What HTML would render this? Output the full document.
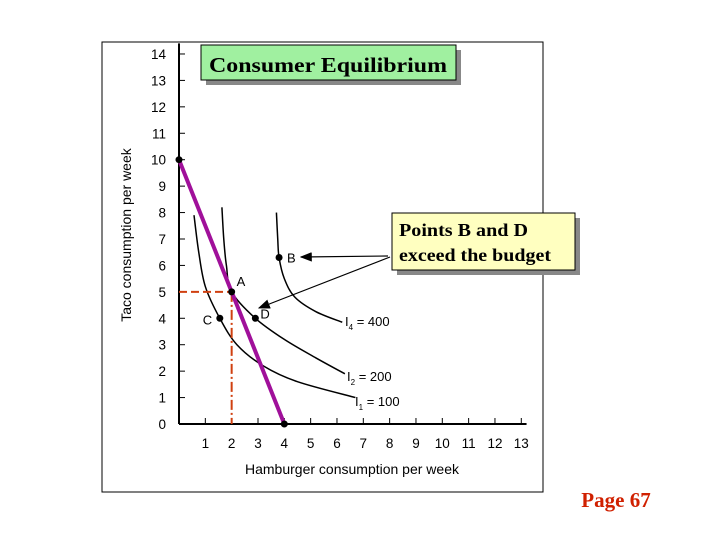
<!DOCTYPE html>
<html><head><meta charset="utf-8"><style>
body{margin:0;width:720px;height:540px;background:#fff;overflow:hidden;font-family:"Liberation Sans",sans-serif}
</style></head><body>
<svg width="720" height="540" id="c">
<rect x="102" y="42" width="441" height="450" fill="#fff" stroke="#000" stroke-width="1"/>
<g id="g"></g>
<text x="131" y="235" transform="rotate(-90 131 235)" text-anchor="middle" font-size="14" font-family="Liberation Sans">Taco consumption per week</text>
<text x="352" y="474" text-anchor="middle" font-size="14" font-family="Liberation Sans">Hamburger consumption per week</text>
<rect x="206" y="50" width="255" height="35" fill="#888"/>
<rect x="201" y="45" width="255" height="35" fill="#a0f0a0" stroke="#000"/>
<text x="209" y="72" font-size="21" font-weight="bold" textLength="238" lengthAdjust="spacingAndGlyphs" font-family="Liberation Serif">Consumer Equilibrium</text>
<rect x="397" y="218" width="183" height="57" fill="#888"/>
<rect x="392" y="213" width="183" height="57" fill="#ffffc0" stroke="#000"/>
<text x="399" y="236" font-size="18" font-weight="bold" textLength="129" lengthAdjust="spacingAndGlyphs" font-family="Liberation Serif">Points B and D</text>
<text x="399" y="261" font-size="18" font-weight="bold" textLength="152" lengthAdjust="spacingAndGlyphs" font-family="Liberation Serif">exceed the budget</text>
<text x="616" y="507" text-anchor="middle" font-size="21" font-weight="bold" fill="#d02000" font-family="Liberation Serif">Page 67</text>
</svg>
<script>
const xTicks=[1,2,3,4,5,6,7,8,9,10,11,12,13];
const yTicks=[0,1,2,3,4,5,6,7,8,9,10,11,12,13,14];
const curveI1=[[0.57,7.9],[0.75,6.5],[1.0,5.2],[1.55,4],[2.2,3],[3.2,2.2],[4.5,1.6],[6.7,1.0]];
const curveI2=[[1.63,8.2],[1.7,7],[1.8,6],[2,5],[2.9,4],[4,3.2],[5.2,2.5],[6.3,1.9]];
const curveI4=[[3.7,8],[3.75,7],[3.8,6.3],[4.0,5.5],[4.4,4.8],[5.2,4.25],[6.2,3.85]];
const budget=[[0,10],[4,0]];
const pointNames=["A","B","C","D"];
const pointX=[2,3.8,1.55,2.9];
const pointY=[5,6.3,4,4];
const curveLabels=["I4 = 400","I2 = 200","I1 = 100"];
const X=v=>179+v*26.33, Y=v=>424-v*26.43;
const NS="http://www.w3.org/2000/svg", g=document.getElementById('g');
function mk(t,a,p){const e=document.createElementNS(NS,t);for(const k in a)e.setAttribute(k,a[k]);(p||g).appendChild(e);return e;}
let e=mk('line',{x1:179,y1:Y(14.4),x2:179,y2:424,stroke:'#000','stroke-width':2});

e=mk('line',{x1:179,y1:424,x2:X(13.2),y2:424,stroke:'#000','stroke-width':2});

yTicks.forEach(v=>{mk('line',{x1:179,y1:Y(v),x2:185,y2:Y(v),stroke:'#000'});
 e=mk('text',{x:166,y:Y(v)+5,'text-anchor':'end','font-size':13.5});e.textContent=v;
 });
xTicks.forEach(v=>{mk('line',{x1:X(v),y1:424,x2:X(v),y2:418,stroke:'#000'});
 e=mk('text',{x:X(v),y:448,'text-anchor':'middle','font-size':13.5});e.textContent=v;
 });
function smooth(pts){const p=pts.map(q=>[X(q[0]),Y(q[1])]);let d='M'+p[0];
 for(let i=0;i<p.length-1;i++){const a=p[i-1]||p[i],b=p[i],c=p[i+1],n=p[i+2]||c;
 d+=' C'+[b[0]+(c[0]-a[0])/6,b[1]+(c[1]-a[1])/6]+' '+[c[0]-(n[0]-b[0])/6,c[1]-(n[1]-b[1])/6]+' '+c;}return d;}
[[curveI1,'indifference-curve-i1'],[curveI2,'indifference-curve-i2'],[curveI4,'indifference-curve-i4']].forEach(([c,n])=>{
 e=mk('path',{d:smooth(c),fill:'none',stroke:'#000','stroke-width':1.5});
 });
e=mk('path',{d:`M${X(0)},${Y(pointY[0])}H${X(pointX[0])}`,stroke:'#d04010','stroke-width':2,'stroke-dasharray':'8,4',fill:'none'});

e=mk('path',{d:`M${X(pointX[0])},${Y(pointY[0])}V${Y(0)}`,stroke:'#d04010','stroke-width':2,'stroke-dasharray':'10,3,2,3',fill:'none'});

e=mk('line',{x1:X(budget[0][0]),y1:Y(budget[0][1]),x2:X(budget[1][0]),y2:Y(budget[1][1]),stroke:'#a0109a','stroke-width':4});

budget.forEach(b=>{e=mk('circle',{cx:X(b[0]),cy:Y(b[1]),r:3.5,fill:'#000'});
 });
const off={A:[5,-6],B:[8,5],C:[-17,6],D:[5,0]};
pointNames.forEach((n,i)=>{e=mk('circle',{cx:X(pointX[i]),cy:Y(pointY[i]),r:3.5,fill:'#000'});
 
 e=mk('text',{x:X(pointX[i])+off[n][0],y:Y(pointY[i])+off[n][1],'font-size':13});e.textContent=n;
 });
const lp=[[345,326],[347,381],[355,406]];
curveLabels.forEach((t,i)=>{e=mk('text',{x:lp[i][0],y:lp[i][1],'font-size':13});
 e.innerHTML='I<tspan font-size="8" dy="4">'+t[1]+'</tspan><tspan dy="-4">'+t.slice(2)+'</tspan>';
 });
const defs=mk('defs',{});const m=mk('marker',{id:'ar',markerWidth:10,markerHeight:8,refX:9,refY:4,orient:'auto'},defs);mk('path',{d:'M0,0L10,4L0,8z',fill:'#000'},m);
e=mk('line',{x1:388,y1:256,x2:301,y2:257,stroke:'#000','stroke-width':1.2,'marker-end':'url(#ar)'});

e=mk('line',{x1:390,y1:257,x2:259,y2:308,stroke:'#000','stroke-width':1.2,'marker-end':'url(#ar)'});

</script>
</body></html>
